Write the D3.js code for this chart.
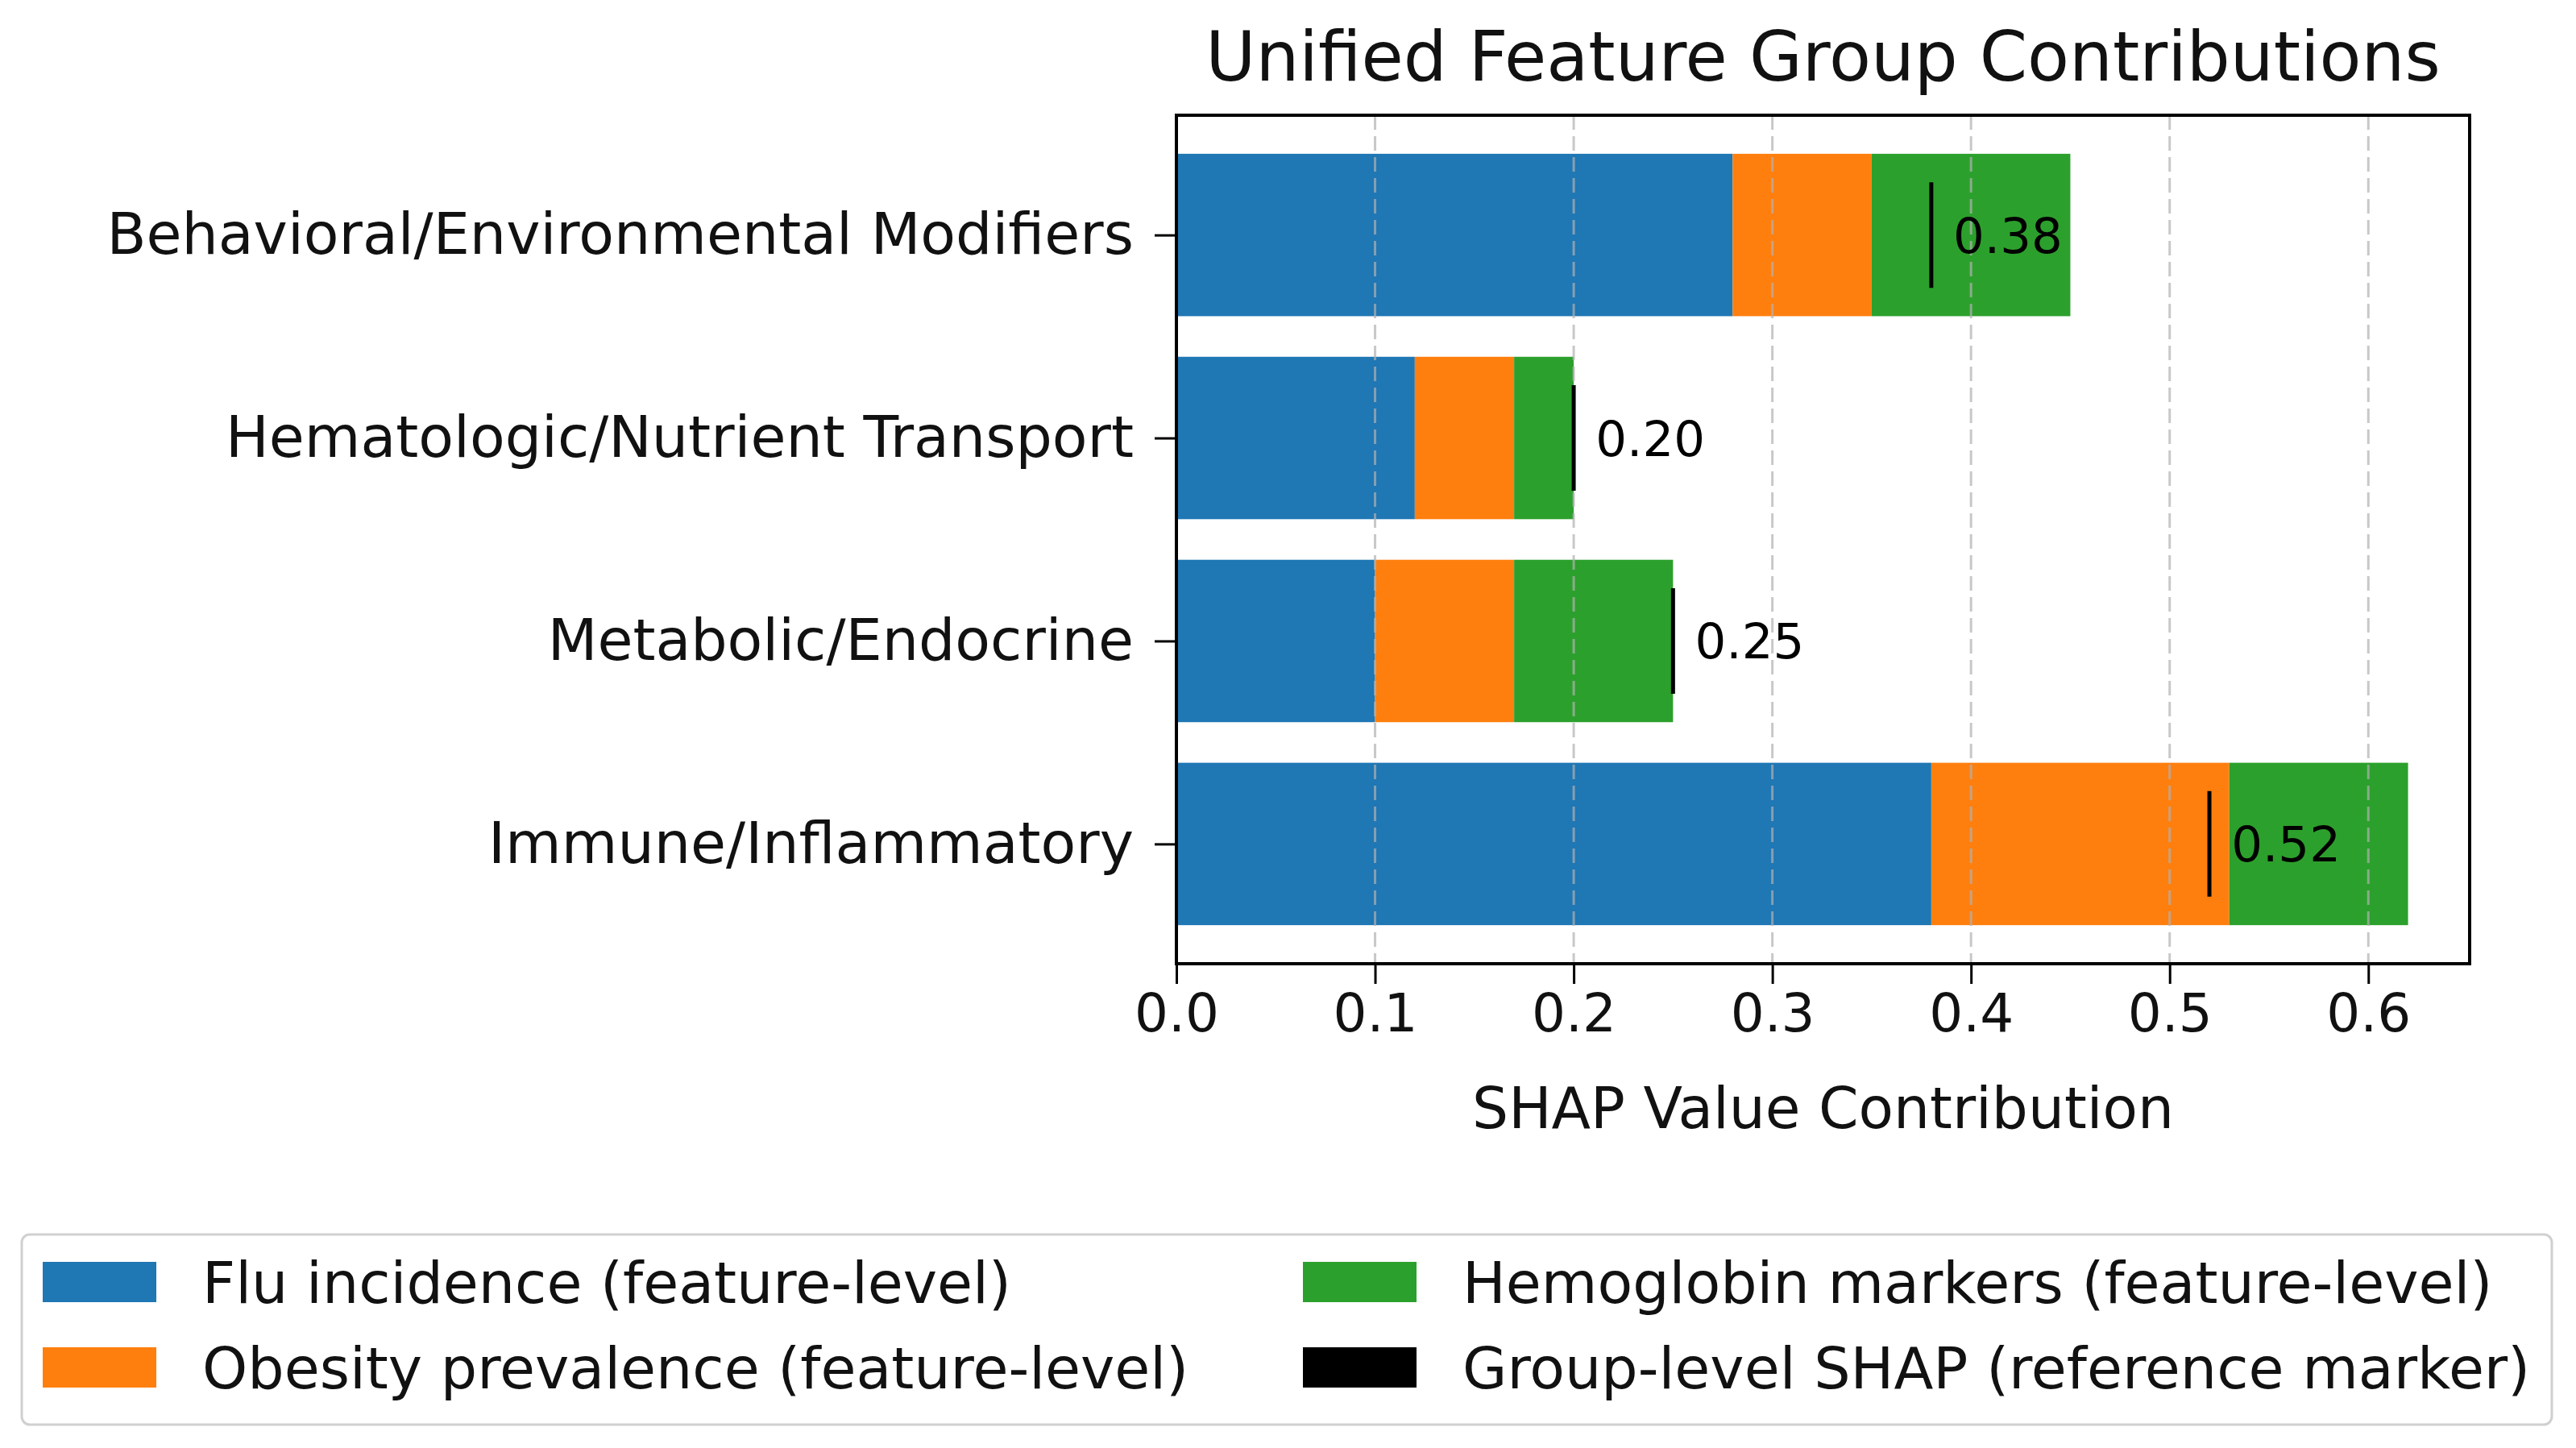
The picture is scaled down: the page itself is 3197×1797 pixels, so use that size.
<!DOCTYPE html>
<html>
<head>
<meta charset="utf-8">
<script src="https://cdn.jsdelivr.net/npm/d3@7"></script>
<style>
  body { margin: 0; background: #fff; }
  text { font-family: "DejaVu Sans", sans-serif; }
</style>
</head>
<body>
<svg id="chart"></svg>
<script>
// chart data, bottom to top
const groups = ["Immune/Inflammatory", "Metabolic/Endocrine", "Hematologic/Nutrient Transport", "Behavioral/Environmental Modifiers"];
const fluValues = [0.38, 0.10, 0.12, 0.28];
const obesityValues = [0.15, 0.07, 0.05, 0.07];
const hemoglobinValues = [0.09, 0.08, 0.03, 0.10];
const groupShap = [0.52, 0.25, 0.20, 0.38];
const seriesKeys = ["flu", "obesity", "hemoglobin"];
const legendLabels = ["Flu incidence (feature-level)", "Obesity prevalence (feature-level)", "Hemoglobin markers (feature-level)", "Group-level SHAP (reference marker)"];
const xTicks = [0, 0.1, 0.2, 0.3, 0.4, 0.5, 0.6];

var width = 3197;
var height = 1797;
var plot = {left: 1460, right: 3065, top: 143, bottom: 1196};

const colors = {flu: "#1f77b4", obesity: "#ff7f0e", hemoglobin: "#2ca02c", marker: "#000000"};

const rows = groups.map((g, i) => ({
    group: g, idx: i,
    flu: fluValues[i], obesity: obesityValues[i], hemoglobin: hemoglobinValues[i]
}));

const svg = d3.select("#chart")
    .attr("width", width)
    .attr("height", height);

svg.append("rect").attr("width", width).attr("height", height).attr("fill", "#fff");

const maxTotal = d3.max(rows, d => d.flu + d.obesity + d.hemoglobin);
const x = d3.scaleLinear().domain([0, maxTotal * 1.05]).range([plot.left, plot.right]);
const y = d3.scaleLinear().domain([-0.59, groups.length - 1 + 0.59]).range([plot.bottom, plot.top]);

const stacked = d3.stack().keys(seriesKeys)(rows);

// bars
svg.append("g")
    .selectAll("g")
    .data(stacked)
    .join("g")
        .attr("fill", s => colors[s.key])
    .selectAll("rect")
    .data(s => s)
    .join("rect")
        .attr("x", d => x(d[0]))
        .attr("width", d => x(d[1]) - x(d[0]))
        .attr("y", d => y(d.data.idx + 0.4))
        .attr("height", d => y(d.data.idx - 0.4) - y(d.data.idx + 0.4));

// dashed grid, drawn over bars
svg.append("g")
    .selectAll("line")
    .data(xTicks.slice(1))
    .join("line")
        .attr("x1", d => x(d)).attr("x2", d => x(d))
        .attr("y1", plot.top).attr("y2", plot.bottom)
        .attr("stroke", "#b0b0b0")
        .attr("stroke-opacity", 0.7)
        .attr("stroke-width", 3)
        .attr("stroke-dasharray", "18,8");

// group-level markers and labels
svg.append("g")
    .selectAll("line")
    .data(groupShap)
    .join("line")
        .attr("x1", d => x(d)).attr("x2", d => x(d))
        .attr("y1", (d, i) => y(i + 0.26))
        .attr("y2", (d, i) => y(i - 0.26))
        .attr("stroke", colors.marker)
        .attr("stroke-width", 5);

svg.append("g")
    .selectAll("text")
    .data(groupShap)
    .join("text")
        .attr("x", d => x(d + 0.011))
        .attr("y", (d, i) => y(i))
        .attr("dy", "0.36em")
        .style("font-size", "61px")
        .text(d => d3.format(".2f")(d));

// axes
const xAxis = svg.append("g")
    .attr("transform", `translate(0,${plot.bottom})`)
    .call(d3.axisBottom(x).tickValues(xTicks).tickFormat(d3.format(".1f")).tickSize(25).tickSizeOuter(0).tickPadding(12));
xAxis.select(".domain").remove();
xAxis.selectAll(".tick line").attr("stroke-width", 3);
xAxis.selectAll(".tick text").style("font-size", "66px").attr("fill", "#111");

const yAxis = svg.append("g")
    .attr("transform", `translate(${plot.left},0)`)
    .call(d3.axisLeft(y).tickValues(d3.range(groups.length)).tickFormat(i => groups[i]).tickSize(27).tickSizeOuter(0).tickPadding(26));
yAxis.select(".domain").remove();
yAxis.selectAll(".tick line").attr("stroke-width", 3);
yAxis.selectAll(".tick text").style("font-size", "71.5px").attr("fill", "#111");

// frame
svg.append("rect")
    .attr("x", plot.left).attr("y", plot.top)
    .attr("width", plot.right - plot.left)
    .attr("height", plot.bottom - plot.top)
    .attr("fill", "none")
    .attr("stroke", "#000")
    .attr("stroke-width", 4);

svg.append("text")
    .attr("x", (plot.left + plot.right) / 2)
    .attr("y", 100)
    .attr("text-anchor", "middle")
    .attr("fill", "#111")
    .style("font-size", "85px")
    .text("Unified Feature Group Contributions");

svg.append("text")
    .attr("x", (plot.left + plot.right) / 2)
    .attr("y", 1400)
    .attr("text-anchor", "middle")
    .attr("fill", "#111")
    .style("font-size", "71px")
    .text("SHAP Value Contribution");

// legend, two columns
const legendColors = [colors.flu, colors.obesity, colors.hemoglobin, colors.marker];
const legend = svg.append("g");
legend.append("rect")
    .attr("x", 27).attr("y", 1532)
    .attr("width", 3140).attr("height", 236)
    .attr("rx", 10)
    .attr("fill", "#fff")
    .attr("stroke", "#d0d0d0")
    .attr("stroke-width", 3);

const colX = [53, 1617];
const rowY = [1591, 1697];
const item = legend.selectAll("g.item")
    .data(legendLabels)
    .join("g")
        .attr("class", "item")
        .attr("transform", (d, i) => `translate(${colX[Math.floor(i / 2)]},${rowY[i % 2]})`);
item.append("rect")
    .attr("x", 0).attr("y", -25)
    .attr("width", 141).attr("height", 50)
    .attr("fill", (d, i) => legendColors[i]);
item.append("text")
    .attr("x", 198)
    .attr("dy", "0.36em")
    .attr("fill", "#111")
    .style("font-size", "71.5px")
    .text(d => d);
</script>
</body>
</html>
